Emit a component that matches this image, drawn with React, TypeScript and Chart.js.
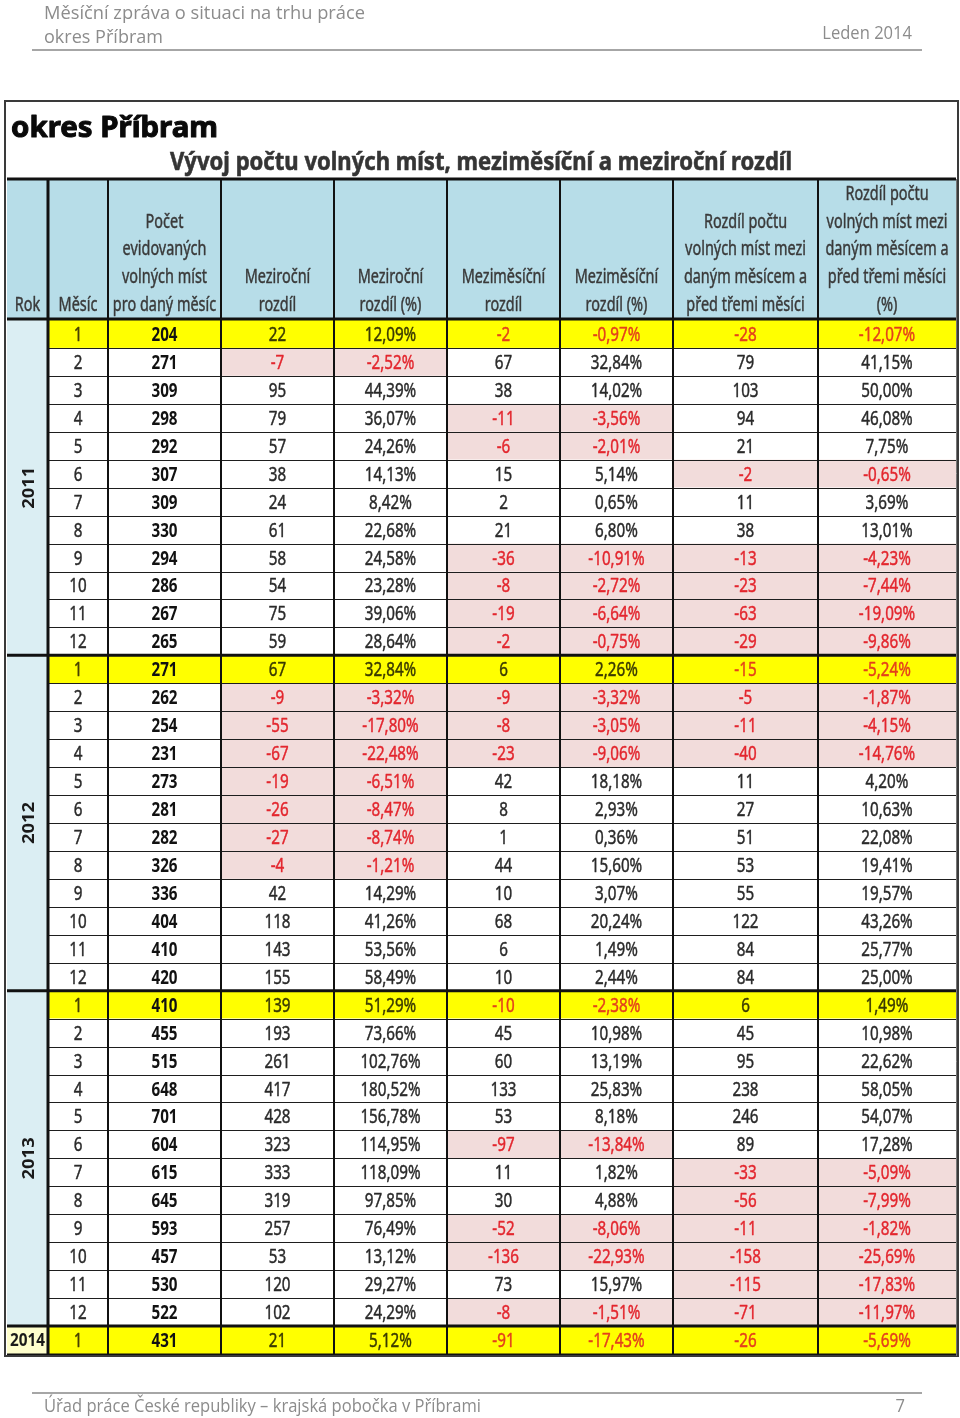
import React, { useEffect, useRef } from "react";
import { Chart, registerables } from "chart.js";

Chart.register(...registerables);

// ---------- DATA ----------
const YEARS = ["2011", "2012", "2013", "2014"];
const YEAR_ROW_COUNTS = [12, 12, 12, 1];
const MONTHS = [1, 2, 3, 4, 5, 6, 7, 8, 9, 10, 11, 12, 1, 2, 3, 4, 5, 6, 7, 8, 9, 10, 11, 12, 1, 2, 3, 4, 5, 6, 7, 8, 9, 10, 11, 12, 1];
const POCET = [204, 271, 309, 298, 292, 307, 309, 330, 294, 286, 267, 265, 271, 262, 254, 231, 273, 281, 282, 326, 336, 404, 410, 420, 410, 455, 515, 648, 701, 604, 615, 645, 593, 457, 530, 522, 431];
const MEZIROCNI = [22, -7, 95, 79, 57, 38, 24, 61, 58, 54, 75, 59, 67, -9, -55, -67, -19, -26, -27, -4, 42, 118, 143, 155, 139, 193, 261, 417, 428, 323, 333, 319, 257, 53, 120, 102, 21];
const MEZIROCNI_PCT = [12.09, -2.52, 44.39, 36.07, 24.26, 14.13, 8.42, 22.68, 24.58, 23.28, 39.06, 28.64, 32.84, -3.32, -17.8, -22.48, -6.51, -8.47, -8.74, -1.21, 14.29, 41.26, 53.56, 58.49, 51.29, 73.66, 102.76, 180.52, 156.78, 114.95, 118.09, 97.85, 76.49, 13.12, 29.27, 24.29, 5.12];
const MEZIMESICNI = [-2, 67, 38, -11, -6, 15, 2, 21, -36, -8, -19, -2, 6, -9, -8, -23, 42, 8, 1, 44, 10, 68, 6, 10, -10, 45, 60, 133, 53, -97, 11, 30, -52, -136, 73, -8, -91];
const MEZIMESICNI_PCT = [-0.97, 32.84, 14.02, -3.56, -2.01, 5.14, 0.65, 6.8, -10.91, -2.72, -6.64, -0.75, 2.26, -3.32, -3.05, -9.06, 18.18, 2.93, 0.36, 15.6, 3.07, 20.24, 1.49, 2.44, -2.38, 10.98, 13.19, 25.83, 8.18, -13.84, 1.82, 4.88, -8.06, -22.93, 15.97, -1.51, -17.43];
const ROZDIL3 = [-28, 79, 103, 94, 21, -2, 11, 38, -13, -23, -63, -29, -15, -5, -11, -40, 11, 27, 51, 53, 55, 122, 84, 84, 6, 45, 95, 238, 246, 89, -33, -56, -11, -158, -115, -71, -26];
const ROZDIL3_PCT = [-12.07, 41.15, 50.0, 46.08, 7.75, -0.65, 3.69, 13.01, -4.23, -7.44, -19.09, -9.86, -5.24, -1.87, -4.15, -14.76, 4.2, 10.63, 22.08, 19.41, 19.57, 43.26, 25.77, 25.0, 1.49, 10.98, 22.62, 58.05, 54.07, 17.28, -5.09, -7.99, -1.82, -25.69, -17.83, -11.97, -5.69];

const HEADERS = [
  ["Rok"],
  ["Měsíc"],
  ["Počet", "evidovaných", "volných míst", "pro daný měsíc"],
  ["Meziroční", "rozdíl"],
  ["Meziroční", "rozdíl (%)"],
  ["Meziměsíční", "rozdíl"],
  ["Meziměsíční", "rozdíl (%)"],
  ["Rozdíl počtu", "volných míst mezi", "daným měsícem a", "před třemi měsíci"],
  ["Rozdíl počtu", "volných míst mezi", "daným měsícem a", "před třemi měsíci", "(%)"],
];

const PAGE_TITLE_1 = "Měsíční zpráva o situaci na trhu práce";
const PAGE_TITLE_2 = "okres Příbram";
const PAGE_DATE = "Leden 2014";
const FOOTER = "Úřad práce České republiky – krajská pobočka v Příbrami";
const PAGE_NO = "7";
const TABLE_TITLE = "okres Příbram";
const TABLE_SUBTITLE = "Vývoj počtu volných míst, meziměsíční a meziroční rozdíl";

// ---------- LAYOUT / STYLE ----------
const COL_EDGES = [0, 41, 101, 214, 327, 440, 553, 666, 811, 949];
const FONT = "'Noto Sans', 'DejaVu Sans', sans-serif";
const PAGE_FONT = "'Open Sans', 'Noto Sans', sans-serif";
const HEADER_BG = "#b7dde8";
const ROK_BG = "#dbeef3";
const ROK_2014_BG = "#ffffcc";
const YELLOW = "#ffff00";
const PINK = "#f2dcdb";
const RED = "#e3262e";
const RED_ON_YELLOW = "#e4401c";
const TEXT = "#2a2a2a";
const TEXT_ON_YELLOW = "#3a3a00";

const fmtPct = (v: number) => v.toFixed(2).replace(".", ",") + "%";

function drawText(
  ctx: CanvasRenderingContext2D,
  s: string,
  x: number,
  y: number,
  font: string,
  color: string,
  align: CanvasTextAlign = "center",
  sx = 1,
  stroke = 0
) {
  ctx.save();
  ctx.font = font;
  ctx.fillStyle = color;
  ctx.textAlign = align;
  ctx.textBaseline = "alphabetic";
  ctx.translate(x, y);
  ctx.scale(sx, 1);
  ctx.fillText(s, 0, 0);
  if (stroke > 0) {
    ctx.strokeStyle = color;
    ctx.lineWidth = stroke;
    ctx.lineJoin = "round";
    ctx.strokeText(s, 0, 0);
  }
  ctx.restore();
}

function drawFit(
  ctx: CanvasRenderingContext2D,
  s: string,
  x: number,
  y: number,
  font: string,
  color: string,
  width: number,
  stroke = 0
) {
  ctx.save();
  ctx.font = font;
  const w = ctx.measureText(s).width;
  ctx.restore();
  drawText(ctx, s, x, y, font, color, "left", width / w, stroke);
}

function hLine(ctx: CanvasRenderingContext2D, x1: number, x2: number, y: number, w: number, c: string) {
  ctx.save();
  ctx.strokeStyle = c;
  ctx.lineWidth = w;
  ctx.beginPath();
  ctx.moveTo(x1, y);
  ctx.lineTo(x2, y);
  ctx.stroke();
  ctx.restore();
}
function vLine(ctx: CanvasRenderingContext2D, x: number, y1: number, y2: number, w: number, c: string) {
  ctx.save();
  ctx.strokeStyle = c;
  ctx.lineWidth = w;
  ctx.beginPath();
  ctx.moveTo(x, y1);
  ctx.lineTo(x, y2);
  ctx.stroke();
  ctx.restore();
}

const tablePlugin = {
  id: "tablePlugin",
  afterDraw(chart: any) {
    const ctx: CanvasRenderingContext2D = chart.ctx;
    const xs = chart.scales.x;
    const ys = chart.scales.y;
    const X = (v: number) => xs.getPixelForValue(v);
    const Y = (v: number) => ys.getPixelForValue(v);
    const left = X(COL_EDGES[0]);
    const right = X(COL_EDGES[COL_EDGES.length - 1]);
    const top = Y(0);
    const bottom = Y(MONTHS.length);
    const headTop = top - 141;

    ctx.save();
    // page header
    drawFit(ctx, PAGE_TITLE_1, 44, 19, `19px ${PAGE_FONT}`, "#8c8c8c", 321);
    drawFit(ctx, PAGE_TITLE_2, 44, 43, `19px ${PAGE_FONT}`, "#8c8c8c", 119);
    drawText(ctx, PAGE_DATE, 912, 39, `18px ${PAGE_FONT}`, "#8c8c8c", "right", 0.92);
    hLine(ctx, 32, 922, 50, 2, "#a6a6a6");
    // footer
    hLine(ctx, 32, 922, 1393, 2, "#a6a6a6");
    drawFit(ctx, FOOTER, 44, 1412, `18px ${PAGE_FONT}`, "#8c8c8c", 437);
    drawText(ctx, PAGE_NO, 905, 1412, `18px ${PAGE_FONT}`, "#8c8c8c", "right", 0.92);

    // table titles
    drawFit(ctx, TABLE_TITLE, 11, 137, `bold 29px ${FONT}`, "#0a0a0a", 207, 1);
    drawFit(ctx, TABLE_SUBTITLE, 170, 170, `bold 25px ${FONT}`, "#353535", 622, 0.6);

    // header background
    ctx.fillStyle = HEADER_BG;
    ctx.fillRect(left, headTop, right - left, top - headTop);

    // body cells
    const n = MONTHS.length;
    const values: (number | null)[][] = [];
    for (let r = 0; r < n; r++) {
      values.push([null, null, POCET[r], MEZIROCNI[r], MEZIROCNI_PCT[r], MEZIMESICNI[r], MEZIMESICNI_PCT[r], ROZDIL3[r], ROZDIL3_PCT[r]]);
    }
    for (let r = 0; r < n; r++) {
      const yellow = MONTHS[r] === 1;
      for (let c = 1; c < COL_EDGES.length - 1; c++) {
        const v = values[r][c];
        let bg = "#ffffff";
        if (yellow) bg = YELLOW;
        else if (v !== null && v < 0) bg = PINK;
        ctx.fillStyle = bg;
        ctx.fillRect(X(COL_EDGES[c]), Y(r), X(COL_EDGES[c + 1]) - X(COL_EDGES[c]), Y(r + 1) - Y(r));
      }
    }
    // year cells
    let start = 0;
    YEARS.forEach((yr, i) => {
      const cnt = YEAR_ROW_COUNTS[i];
      ctx.fillStyle = cnt === 1 ? ROK_2014_BG : ROK_BG;
      ctx.fillRect(X(COL_EDGES[0]), Y(start), X(COL_EDGES[1]) - X(COL_EDGES[0]), Y(start + cnt) - Y(start));
      start += cnt;
    });

    // thin row lines
    for (let r = 1; r < n; r++) {
      hLine(ctx, X(COL_EDGES[1]), right, Math.round(Y(r)) + 0.5, 1, "#1e1e1e");
    }
    // year separators
    start = 0;
    YEAR_ROW_COUNTS.forEach((cnt, i) => {
      if (i > 0) hLine(ctx, left, right, Y(start), 3, "#111111");
      start += cnt;
    });
    // vertical lines
    for (let c = 1; c < COL_EDGES.length - 1; c++) {
      vLine(ctx, X(COL_EDGES[c]), headTop, bottom, c === 1 ? 3 : 2, "#111111");
    }
    // header lines
    hLine(ctx, left, right, headTop, 3, "#111111");
    hLine(ctx, left, right, top - 1, 3, "#111111");
    hLine(ctx, left, right, bottom + 1, 3, "#111111");
    // outer frame
    ctx.strokeStyle = "#3a3a3a";
    ctx.lineWidth = 2;
    ctx.strokeRect(5, 101, 953, 1255);
    vLine(ctx, right + 0.5, headTop, bottom + 2, 1, "#777777");

    // header texts
    HEADERS.forEach((lines, c) => {
      const cx = (X(COL_EDGES[c]) + X(COL_EDGES[c + 1])) / 2;
      const L = lines.length;
      lines.forEach((ln, k) => {
        const cy = top - 16 - (L - 1 - k) * 27.8;
        drawText(ctx, ln, cx, cy + 7, `19px ${FONT}`, "#3a3a3a", "center", 0.76, 0.45);
      });
    });

    // body texts
    for (let r = 0; r < n; r++) {
      const yellow = MONTHS[r] === 1;
      const cy = (Y(r) + Y(r + 1)) / 2 + 7;
      // month
      drawText(ctx, String(MONTHS[r]), (X(COL_EDGES[1]) + X(COL_EDGES[2])) / 2, cy, `20px ${FONT}`, yellow ? "#4a4200" : TEXT, "center", 0.76, 0.45);
      for (let c = 2; c < COL_EDGES.length - 1; c++) {
        const v = values[r][c] as number;
        const isPct = c === 4 || c === 6 || c === 8;
        const s = isPct ? fmtPct(v) : String(v);
        const neg = v < 0;
        let color = yellow ? TEXT_ON_YELLOW : TEXT;
        if (neg) color = yellow ? RED_ON_YELLOW : RED;
        if (c === 2) color = "#111111";
        const font = c === 2 ? `bold 20px ${FONT}` : `20px ${FONT}`;
        drawText(ctx, s, (X(COL_EDGES[c]) + X(COL_EDGES[c + 1])) / 2, cy, font, color, "center", 0.76, c === 2 ? 0 : 0.45);
      }
    }

    // year labels
    start = 0;
    const rx = (X(COL_EDGES[0]) + X(COL_EDGES[1])) / 2;
    YEARS.forEach((yr, i) => {
      const cnt = YEAR_ROW_COUNTS[i];
      const cy = (Y(start) + Y(start + cnt)) / 2;
      if (cnt === 1) {
        drawText(ctx, yr, rx, cy + 6, `bold 17px ${FONT}`, "#1a1a1a", "center", 0.9);
      } else {
        ctx.save();
        ctx.translate(rx + 6, cy);
        ctx.rotate(-Math.PI / 2);
        drawText(ctx, yr, 0, 0, `bold 16px ${FONT}`, "#1a1a1a", "center", 1.15);
        ctx.restore();
      }
      start += cnt;
    });
    ctx.restore();
  },
};

export default function App() {
  const ref = useRef<HTMLCanvasElement | null>(null);
  useEffect(() => {
    document.body.style.margin = "0";
    const canvas = ref.current;
    if (!canvas) return;
    const centerX = (COL_EDGES[2] + COL_EDGES[3]) / 2;
    const chart = new Chart(canvas, {
      type: "scatter",
      data: {
        datasets: [
          {
            label: "Počet",
            data: POCET.map((v, i) => ({ x: centerX, y: i + 0.5 })),
            pointRadius: 0,
            pointHoverRadius: 0,
            showLine: false,
          },
        ],
      },
      options: {
        responsive: false,
        animation: false,
        devicePixelRatio: 1,
        events: [],
        layout: { padding: { left: 7, right: 4, top: 320, bottom: 64 } },
        plugins: { legend: { display: false }, tooltip: { enabled: false }, title: { display: false } },
        scales: {
          x: { type: "linear", min: COL_EDGES[0], max: COL_EDGES[COL_EDGES.length - 1], display: false },
          y: { type: "linear", min: 0, max: MONTHS.length, reverse: true, display: false },
        },
      },
      plugins: [tablePlugin],
    });
    return () => chart.destroy();
  }, []);
  return <canvas ref={ref} width={960} height={1418} style={{ display: "block" }} />;
}
